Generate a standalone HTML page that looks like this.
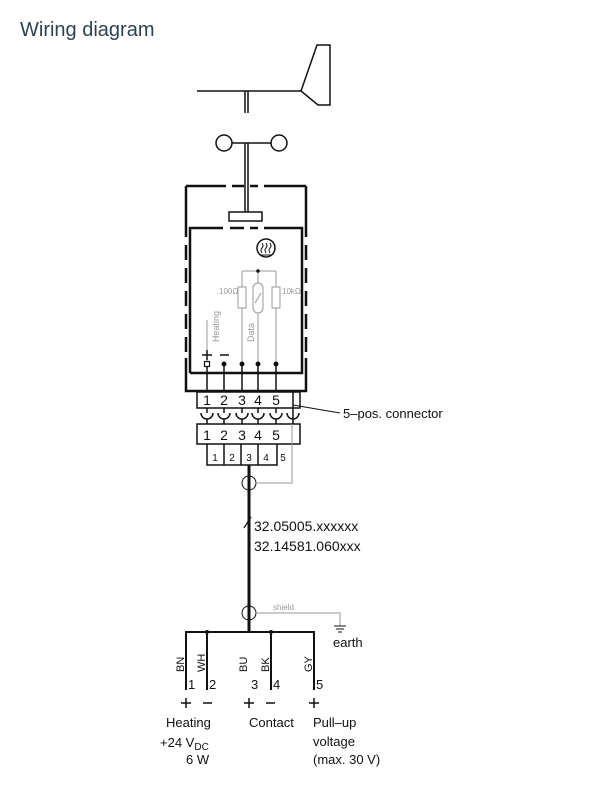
<!DOCTYPE html>
<html><head><meta charset="utf-8"><style>
html,body{margin:0;padding:0;background:#fff;}
svg{display:block;}
text{font-family:"Liberation Sans",sans-serif;}
</style></head><body>
<svg width="601" height="800" viewBox="0 0 601 800" xmlns="http://www.w3.org/2000/svg">
<text x="20" y="36" font-size="20" fill="#2b4253">Wiring diagram</text>
<g stroke="#111" fill="none" stroke-width="1.5">
<line x1="197" y1="91" x2="301" y2="91"/>
<line x1="245" y1="91" x2="245" y2="113"/><line x1="248" y1="91" x2="248" y2="113"/>
<polygon points="301,91 317,45 330,45 330,105 318,105"/>
<circle cx="224" cy="143" r="8"/><circle cx="279" cy="143" r="8"/>
<line x1="232" y1="143" x2="271" y2="143"/>
<line x1="245" y1="143" x2="245" y2="212"/><line x1="248" y1="143" x2="248" y2="212"/>
<rect x="229" y="212" width="33" height="9"/>
<g stroke-width="2.5">
<path d="M186 186 H226 M232 186 H244 M250 186 H258 M264 186 H306"/>
<path d="M186 186 V237 M186 245 V260 M186 268 V283 M186 291 V306 M186 314 V329 M186 337 V352 M186 358 V391 H306 V358 M306 352 V337 M306 329 V314 M306 306 V291 M306 283 V268 M306 260 V245 M306 237 V186"/>
<path d="M190 373 V228 H223 M230 228 H244 M250 228 H258 M264 228 H302 V373 H190"/>
</g>
<circle cx="266" cy="248" r="9"/>
<path d="M262 253 q-2 -3 0 -5 q2 -2 0 -5 M266 253 q-2 -3 0 -5 q2 -2 0 -5 M270 253 q-2 -3 0 -5 q2 -2 0 -5" stroke-width="1"/>
<line x1="261" y1="255" x2="271" y2="255" stroke-width="1"/>
</g>
<g stroke="#999" fill="none" stroke-width="1">
<path d="M242 271 H276 M242 271 V364 M258 271 V364 M276 271 V364"/>
<rect x="238" y="287" width="8" height="21" fill="#fff"/>
<rect x="272" y="287" width="8" height="21" fill="#fff"/>
<rect x="253" y="283" width="10" height="30" rx="5" fill="#fff"/>
<line x1="255" y1="303" x2="261" y2="293"/>
<line x1="207" y1="364" x2="207" y2="320"/>
</g>
<circle cx="258" cy="271" r="1.8" fill="#111"/>
<g fill="#999" font-size="8">
<text x="219" y="294">100Ω</text>
<text x="282" y="294">10kΩ</text>
<text transform="translate(219,342) rotate(-90)" font-size="9">Heating</text>
<text transform="translate(254,342) rotate(-90)" font-size="9">Data</text>
</g>
<g stroke="#111" stroke-width="1.5" fill="none">
<path d="M202 355 H212 M207 350 V360 M220 355 H229"/>
<path d="M207 364 V392 M224 364 V392 M242 364 V392 M258 364 V392 M276 364 V392"/>
<rect x="197" y="392" width="103" height="16"/>
<path d="M207 408 V413 M224 408 V413 M242 408 V413 M258 408 V413 M276 408 V413 M293 408 V424"/>
<path d="M201 413 a6 6 0 0 0 12 0 M218 413 a6 6 0 0 0 12 0 M236 413 a6 6 0 0 0 12 0 M252 413 a6 6 0 0 0 12 0 M270 413 a6 6 0 0 0 12 0 M287 413 a6 6 0 0 0 12 0"/>
<path d="M207 419 V424 M224 419 V424 M242 419 V424 M258 419 V424 M276 419 V424"/>
<line x1="293" y1="392" x2="293" y2="408"/>
<rect x="197" y="424" width="103" height="20"/>
<path d="M207 444 V465 H277 V444 M224 444 V465 M241 444 V465 M258 444 V465"/>
<line x1="293" y1="405" x2="340" y2="413" stroke-width="1"/>
<line x1="249" y1="465" x2="249" y2="632" stroke-width="3"/>
<line x1="244" y1="528" x2="251" y2="517" stroke-width="1.2"/>
<circle cx="249" cy="483" r="7" stroke-width="1"/>
<circle cx="249" cy="613" r="7" stroke-width="1"/>
<path d="M186 690 V632 H314 V690 M207 632 V690 M271 632 V690" stroke-width="2"/>
<path d="M181 703 H191 M186 698 V708 M203 703 H212 M244 703 H254 M249 698 V708 M266 703 H275 M309 703 H319 M314 698 V708"/>
</g>
<g fill="#111"><circle cx="207" cy="364" r="2.5"/><circle cx="224" cy="364" r="2.5"/><circle cx="242" cy="364" r="2.5"/><circle cx="258" cy="364" r="2.5"/><circle cx="276" cy="364" r="2.5"/>
<circle cx="207" cy="632" r="2"/><circle cx="271" cy="632" r="2"/></g>
<rect x="204.5" y="361.5" width="5" height="5" fill="#fff" stroke="#111" stroke-width="1.2"/>
<g stroke="#999" fill="none" stroke-width="1">
<path d="M292 424 V483 H256"/>
<path d="M256 613 H340 V626"/>
</g>
<path d="M334 626 H346 M336 629 H344 M338 632 H342" stroke="#111" stroke-width="1"/>
<g fill="#111" font-size="14" text-anchor="middle">
<text x="207" y="405">1</text><text x="224" y="405">2</text><text x="242" y="405">3</text><text x="258" y="405">4</text><text x="276" y="405">5</text>
<text x="207" y="440">1</text><text x="224" y="440">2</text><text x="242" y="440">3</text><text x="258" y="440">4</text><text x="276" y="440">5</text>
<g font-size="10"><text x="215" y="461">1</text><text x="232" y="461">2</text><text x="249" y="461">3</text><text x="266" y="461">4</text><text x="283" y="461">5</text></g>
</g>
<g fill="#111" font-size="13">
<text x="343" y="418">5–pos. connector</text>
<text x="254" y="531" font-size="14">32.05005.xxxxxx</text>
<text x="254" y="551" font-size="14">32.14581.060xxx</text>
<text x="333" y="647">earth</text>
<text x="188" y="689">1</text><text x="209" y="689">2</text><text x="251" y="689">3</text><text x="273" y="689">4</text><text x="316" y="689">5</text>
<g font-size="11">
<text transform="translate(184,672) rotate(-90)">BN</text>
<text transform="translate(205,672) rotate(-90)">WH</text>
<text transform="translate(247,672) rotate(-90)">BU</text>
<text transform="translate(269,672) rotate(-90)">BK</text>
<text transform="translate(312,672) rotate(-90)">GY</text>
</g>
<text x="166" y="727">Heating</text>
<text x="160" y="747">+24 V<tspan font-size="10" dy="3">DC</tspan></text>
<text x="186" y="764">6 W</text>
<text x="249" y="727">Contact</text>
<text x="313" y="727">Pull–up</text>
<text x="313" y="746">voltage</text>
<text x="313" y="764">(max. 30 V)</text>
</g>
<text x="273" y="610" font-size="8" fill="#999">shield</text>
</svg>
</body></html>
